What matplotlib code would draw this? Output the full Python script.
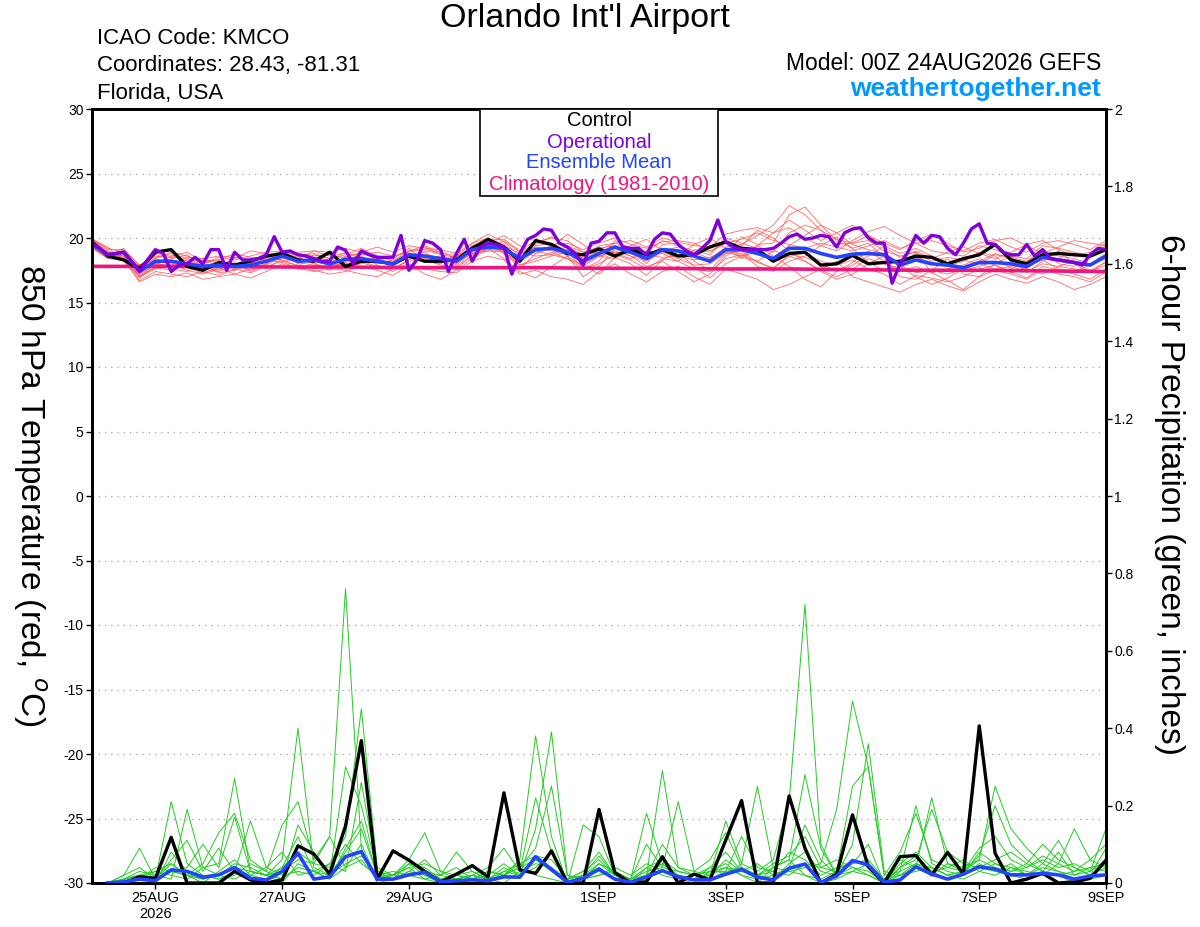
import matplotlib
matplotlib.use('Agg')
import matplotlib.pyplot as plt
import numpy as np

plt.rcParams['font.family'] = ['Liberation Sans', 'DejaVu Sans']
plt.rcParams['axes.unicode_minus'] = False
plt.rcParams['mathtext.fontset'] = 'custom'
plt.rcParams['mathtext.rm'] = 'Liberation Sans'

### DATA ###

# forecast hours from 00Z 24AUG2026
hours_6h = np.arange(65) * 6
hours_3h = np.arange(129) * 3
hours_clim = np.arange(17) * 24

xtick_hours = [24, 72, 120, 192, 240, 288, 336, 384]
xtick_labels = ['25AUG\n2026', '27AUG', '29AUG', '1SEP', '3SEP', '5SEP', '7SEP', '9SEP']
prcp_ticks = [0, 0.2, 0.4, 0.6, 0.8, 1, 1.2, 1.4, 1.6, 1.8, 2]
prcp_tick_labels = ['0', '0.2', '0.4', '0.6', '0.8', '1', '1.2', '1.4', '1.6', '1.8', '2']

# 850 hPa temperature (C)
temp_operational = [
    19.6, 19.2, 18.7, 18.8, 18.9, 18.2, 17.4, 18.3,
    19.1, 18.8, 17.4, 17.9, 18.0, 18.5, 18.0, 19.1,
    19.1, 17.5, 18.9, 18.3, 18.3, 18.4, 18.7, 20.1,
    18.9, 19.0, 18.7, 18.6, 18.4, 18.2, 18.2, 19.3,
    19.05, 18.0, 19.0, 18.7, 18.5, 18.5, 18.5, 20.2,
    17.5, 18.3, 19.8, 19.6, 19.1, 17.4, 18.8, 19.9,
    18.2, 19.3, 19.6, 19.5, 19.3, 17.2, 18.8, 19.9,
    20.2, 20.7, 20.6, 19.6, 19.3, 18.8, 17.9, 19.6,
    19.75, 20.4, 20.4, 19.3, 19.2, 19.2, 18.7, 19.9,
    20.4, 20.3, 19.5, 19.0, 18.7, 19.2, 19.8, 21.4,
    19.7, 19.3, 19.1, 19.1, 19.1, 19.1, 19.2, 19.6,
    20.1, 20.3, 19.9, 20.0, 20.2, 20.1, 19.3, 20.4,
    20.7, 20.8, 20.0, 19.6, 19.6, 16.5, 18.0, 18.9,
    20.2, 19.6, 20.2, 20.1, 19.2, 18.7, 19.6, 20.7,
    21.1, 19.6, 19.5, 18.9, 18.7, 18.7, 19.5, 18.6,
    19.1, 18.4, 18.3, 18.2, 18.1, 17.9, 18.7, 19.2,
    19.1]

temp_control = [
    19.7, 18.6, 18.3, 17.6, 18.9, 19.1, 17.8, 17.5,
    18.1, 17.9, 18.2, 18.6, 18.8, 18.3, 18.2, 18.9,
    17.8, 18.2, 18.2, 18.0, 18.6, 18.2, 18.2, 18.3,
    19.2, 19.9, 19.3, 18.2, 19.8, 19.5, 18.8, 18.7,
    19.15, 18.6, 19.1, 18.7, 19.1, 18.6, 18.7, 19.3,
    19.7, 19.2, 19.1, 18.2, 18.8, 18.9, 17.9, 18.0,
    18.65, 18.0, 18.1, 18.2, 18.6, 18.5, 18.0, 18.4,
    18.7, 19.5, 18.3, 18.0, 18.7, 18.8, 18.7, 18.6,
    19.1]

temp_mean = [
    19.5, 18.7, 18.9, 17.4, 18.2, 18.2, 18.0, 17.8,
    17.9, 17.8, 17.9, 18.2, 18.6, 18.2, 18.3, 18.0,
    18.35, 18.4, 18.2, 18.0, 18.7, 18.6, 18.4, 18.2,
    19.1, 19.3, 19.2, 18.4, 19.1, 19.2, 18.9, 18.2,
    18.8, 19.3, 18.9, 18.4, 19.1, 19.0, 18.6, 18.2,
    19.1, 19.1, 18.8, 18.4, 19.2, 19.2, 18.8, 18.5,
    18.75, 18.8, 18.7, 17.9, 18.3, 18.0, 17.9, 17.7,
    18.1, 18.1, 18.0, 17.8, 18.5, 18.3, 18.1, 17.9,
    18.6]

temp_climatology = [17.8, 17.8, 17.8, 17.75, 17.75, 17.7, 17.7, 17.7, 17.65,
                    17.65, 17.6, 17.6, 17.55, 17.5, 17.5, 17.45, 17.4]

temp_members = [
    [19.8, 19.0, 18.6, 17.0, 17.6, 18.0, 17.5, 17.2, 17.6, 18.0, 17.5, 18.0, 18.9, 18.5, 18.0, 17.6,
     18.2, 18.8, 18.5, 17.6, 18.3, 19.0, 18.8, 18.0, 19.4, 19.9, 19.5, 18.3, 19.4, 19.6, 19.0, 17.6,
     18.2, 19.8, 19.2, 18.0, 19.5, 19.6, 18.2, 17.5, 18.8, 20.1, 19.5, 19.6, 21.8, 22.4, 21.0, 19.8,
     19.2, 19.6, 18.5, 17.0, 16.8, 17.5, 18.4, 17.2, 17.0, 18.0, 18.6, 17.3, 18.2, 19.0, 18.0, 17.3,
     18.2],
    [19.3, 18.5, 19.2, 17.8, 18.6, 18.5, 18.4, 18.1, 18.3, 17.5, 18.4, 18.6, 18.3, 17.8, 18.7, 18.4,
     17.8, 18.0, 18.6, 18.4, 19.2, 18.2, 18.0, 18.7, 18.8, 19.0, 19.8, 18.9, 18.6, 18.7, 19.4, 18.9,
     19.3, 18.8, 18.4, 19.0, 18.8, 18.2, 19.1, 18.9, 19.6, 18.5, 18.2, 19.0, 18.7, 18.5, 18.0, 17.4,
     17.9, 18.6, 19.4, 18.8, 19.2, 18.6, 17.8, 18.2, 18.9, 18.6, 17.6, 18.2, 19.1, 18.0, 17.8, 18.5,
     19.2],
    [19.6, 18.9, 18.4, 16.7, 17.4, 17.2, 17.0, 17.4, 17.1, 17.6, 17.3, 17.8, 18.2, 17.9, 17.6, 17.8,
     18.6, 18.1, 17.7, 17.9, 18.5, 18.9, 18.2, 17.8, 18.6, 19.6, 18.8, 17.9, 18.4, 18.9, 18.4, 17.9,
     17.2, 18.5, 18.0, 17.1, 18.3, 18.9, 17.8, 16.9, 18.0, 18.6, 19.4, 18.6, 17.8, 16.8, 16.2, 17.4,
     18.1, 19.0, 18.2, 17.5, 18.9, 17.3, 16.7, 16.0, 17.0, 17.5, 17.2, 16.8, 17.6, 17.2, 17.0, 16.6,
     17.4],
    [19.9, 18.7, 19.0, 17.6, 18.5, 18.8, 18.2, 18.0, 18.5, 18.3, 18.6, 18.9, 19.0, 18.6, 18.8, 18.4,
     18.7, 19.2, 18.6, 18.2, 19.0, 19.1, 18.9, 18.6, 19.6, 20.0, 19.4, 18.8, 19.5, 20.1, 19.3, 18.7,
     19.2, 19.4, 19.0, 18.9, 19.8, 19.4, 19.0, 18.7, 20.0, 19.6, 19.2, 18.9, 20.4, 21.0, 20.6, 19.5,
     19.6, 20.2, 19.3, 18.5, 19.0, 18.4, 18.9, 19.3, 18.8, 18.4, 18.9, 19.5, 19.8, 19.1, 18.6, 18.9,
     19.6],
    [19.2, 18.4, 18.9, 17.2, 17.9, 18.4, 18.7, 17.6, 17.4, 17.9, 18.0, 17.6, 18.4, 18.4, 18.1, 17.5,
     18.3, 18.6, 17.9, 17.4, 18.4, 18.2, 18.6, 17.9, 18.9, 19.1, 19.0, 17.6, 18.8, 19.4, 18.6, 17.8,
     18.6, 19.0, 18.6, 18.2, 18.9, 18.4, 17.9, 18.0, 18.8, 19.0, 18.1, 17.7, 18.6, 18.2, 17.5, 17.0,
     17.6, 18.4, 18.0, 17.4, 17.8, 17.3, 17.6, 17.9, 18.4, 17.9, 17.3, 17.8, 18.3, 17.6, 17.4, 17.9,
     18.4],
    [19.7, 18.9, 18.8, 17.5, 18.0, 17.8, 18.3, 18.4, 18.0, 17.7, 17.8, 18.5, 18.8, 18.0, 18.5, 18.3,
     18.9, 18.4, 18.0, 18.3, 18.8, 18.4, 18.3, 18.6, 19.2, 19.5, 18.9, 18.7, 19.3, 19.0, 18.7, 18.5,
     19.4, 19.6, 19.2, 18.6, 19.0, 19.3, 18.9, 18.4, 19.3, 19.5, 20.2, 21.0, 22.5, 21.8, 20.6, 19.9,
     19.6, 19.8, 19.0, 18.6, 18.9, 18.2, 18.5, 18.3, 18.0, 18.7, 18.5, 18.2, 18.9, 18.6, 18.4, 18.0,
     18.8],
    [19.4, 18.6, 18.7, 16.9, 17.8, 18.1, 17.7, 17.3, 17.7, 17.2, 17.6, 18.0, 18.6, 18.1, 17.9, 17.7,
     17.9, 18.2, 17.8, 17.7, 18.2, 18.3, 17.9, 17.6, 18.7, 19.0, 18.9, 18.1, 19.0, 18.7, 18.4, 17.6,
     18.0, 18.7, 18.3, 17.6, 18.4, 18.2, 17.6, 17.4, 18.4, 18.7, 18.2, 17.6, 18.7, 18.8, 18.2, 17.9,
     18.3, 17.6, 17.2, 16.4, 17.1, 16.9, 16.6, 17.0, 17.6, 17.9, 17.4, 16.9, 17.8, 17.5, 17.2, 16.8,
     17.6],
    [20.0, 19.1, 19.1, 17.9, 18.7, 18.6, 18.5, 18.4, 18.6, 18.5, 18.2, 18.4, 19.0, 18.8, 18.6, 18.7,
     18.8, 18.7, 18.9, 18.6, 18.9, 19.3, 18.7, 18.5, 19.4, 19.8, 19.9, 19.0, 19.8, 19.5, 19.6, 19.1,
     19.6, 20.0, 19.5, 19.2, 19.7, 19.8, 19.6, 19.0, 19.6, 19.9, 20.4, 19.8, 19.5, 19.2, 19.6, 19.3,
     19.0, 19.4, 19.8, 19.2, 19.6, 19.0, 18.8, 18.6, 19.4, 19.1, 18.6, 18.4, 19.4, 19.2, 18.9, 18.6,
     19.4],
    [19.5, 18.8, 18.5, 17.1, 17.7, 17.5, 17.9, 17.8, 17.5, 18.1, 17.4, 17.9, 18.5, 18.2, 18.2, 17.9,
     18.0, 18.3, 18.4, 17.8, 18.6, 18.7, 18.5, 18.1, 18.8, 19.2, 19.1, 17.9, 18.2, 18.6, 18.9, 18.0,
     18.6, 18.9, 18.8, 18.7, 18.5, 18.6, 18.3, 18.5, 19.0, 18.8, 17.8, 17.4, 18.2, 18.6, 19.4, 20.1,
     19.2, 18.1, 17.5, 17.9, 17.3, 17.5, 17.2, 17.6, 18.0, 17.6, 17.8, 17.4, 18.0, 17.8, 17.6, 17.5,
     18.1],
    [19.6, 18.6, 19.0, 17.6, 18.3, 18.2, 17.9, 17.5, 17.8, 18.0, 18.1, 18.2, 18.8, 18.3, 18.4, 18.1,
     18.1, 18.5, 18.2, 18.1, 18.8, 18.5, 18.4, 18.2, 19.0, 19.4, 19.4, 18.4, 19.1, 19.3, 19.1, 18.4,
     19.0, 19.2, 19.0, 18.4, 19.2, 19.0, 18.7, 18.1, 18.9, 18.6, 18.9, 18.5, 19.4, 20.2, 21.0, 20.4,
     19.5, 19.1, 18.8, 18.1, 18.5, 18.1, 17.8, 17.5, 17.8, 18.2, 17.9, 17.6, 18.5, 18.4, 18.2, 18.0,
     18.7],
    [19.3, 18.4, 18.3, 16.6, 17.2, 17.0, 17.3, 16.8, 17.0, 17.2, 16.9, 17.4, 18.0, 17.6, 17.5, 17.2,
     17.4, 17.8, 17.5, 17.1, 17.9, 17.6, 17.4, 17.3, 18.2, 18.6, 18.3, 17.2, 17.5, 17.0, 16.8, 16.4,
     17.4, 18.0, 17.2, 16.6, 17.4, 17.8, 17.0, 16.4, 17.6, 17.2, 16.8, 16.0, 16.4, 17.0, 17.6, 18.2,
     17.0, 16.6, 16.2, 15.8, 16.4, 16.8, 16.3, 15.9, 16.6, 17.2, 16.8, 16.5, 17.0, 16.6, 16.0, 16.4,
     17.0],
    [19.8, 19.2, 18.9, 17.7, 18.4, 18.9, 18.6, 18.2, 18.3, 18.8, 18.5, 18.3, 18.7, 18.9, 19.0, 18.6,
     18.5, 18.9, 19.3, 18.9, 19.4, 19.2, 19.1, 18.8, 19.6, 20.3, 19.7, 18.6, 19.7, 20.0, 19.8, 18.9,
     19.1, 19.6, 19.8, 19.3, 20.0, 19.7, 19.4, 19.3, 20.3, 20.6, 20.8, 20.4, 20.8, 20.0, 19.4, 19.0,
     19.8, 20.5, 20.9, 20.2, 19.6, 19.8, 19.4, 19.0, 19.6, 19.9, 19.3, 18.9, 19.6, 19.8, 19.5, 19.1,
     19.8],
    [19.4, 18.8, 18.6, 17.3, 18.1, 17.6, 17.4, 17.9, 17.3, 17.5, 17.9, 18.3, 18.1, 17.7, 17.4, 17.6,
     17.5, 17.2, 17.0, 17.6, 18.0, 17.2, 16.8, 17.5, 18.4, 19.2, 18.4, 17.4, 16.9, 17.8, 18.6, 17.0,
     17.8, 19.2, 18.6, 17.8, 18.2, 17.4, 16.6, 17.2, 18.6, 19.4, 20.6, 20.0, 19.0, 18.2, 17.4, 16.8,
     17.2, 18.0, 18.6, 17.8, 17.0, 16.4, 16.9, 17.6, 18.2, 18.8, 18.4, 17.6, 17.2, 17.8, 18.2, 17.4,
     17.9],
    [19.9, 19.3, 18.2, 17.0, 18.0, 18.6, 18.9, 18.2, 17.9, 18.4, 19.0, 18.8, 18.2, 18.4, 19.0, 18.9,
     19.2, 18.9, 18.3, 18.5, 19.0, 19.4, 18.9, 18.4, 19.1, 19.6, 20.2, 19.4, 18.8, 19.2, 20.3, 19.5,
     18.6, 18.4, 19.4, 19.9, 19.0, 18.6, 19.5, 20.0, 19.2, 18.4, 19.4, 20.4, 21.4, 20.6, 19.8, 20.4,
     21.0, 20.2, 19.6, 19.1, 19.8, 20.3, 19.6, 18.9, 19.2, 19.8, 20.0, 19.4, 18.8, 19.3, 19.8, 19.6,
     19.4],
]

# 6-hour precipitation (inches), first value (hour 0) is not plotted
prcp_control = [
    0, 0, 0, 0.016, 0.012, 0.118, 0, 0,
    0, 0.03, 0.008, 0, 0.008, 0.096, 0.075, 0.023,
    0.147, 0.368, 0.01, 0.083, 0.059, 0.03, 0.003, 0.023,
    0.045, 0.016, 0.233, 0.034, 0.025, 0.083, 0, 0,
    0.19, 0.027, 0, 0.003, 0.068, 0, 0.023, 0.008,
    0.111, 0.213, 0, 0, 0.225, 0.09, 0, 0.023,
    0.176, 0.042, 0, 0.068, 0.071, 0.021, 0.079, 0.023,
    0.406, 0.077, 0, 0.01, 0.025, 0, 0.003, 0.012,
    0.059]

prcp_mean = [
    0, 0, 0.003, 0.01, 0.006, 0.034, 0.03, 0.015,
    0.021, 0.04, 0.012, 0.008, 0.03, 0.077, 0.01, 0.016,
    0.068, 0.081, 0.01, 0.01, 0.021, 0.028, 0.003, 0.006,
    0.008, 0.006, 0.016, 0.015, 0.068, 0.035, 0.002, 0.012,
    0.036, 0.01, 0.002, 0.016, 0.032, 0.016, 0.008, 0.008,
    0.023, 0.035, 0.015, 0.008, 0.038, 0.049, 0.002, 0.018,
    0.058, 0.047, 0.002, 0.008, 0.042, 0.023, 0.01, 0.023,
    0.042, 0.036, 0.021, 0.021, 0.025, 0.021, 0.01, 0.018,
    0.021]

prcp_members = [
    [0, 0, 0.01, 0.02, 0.01, 0.05, 0.02, 0, 0.03, 0.06, 0.02, 0.01, 0.04, 0.08, 0.05, 0.12,
     0.76, 0.09, 0, 0.01, 0.03, 0.02, 0, 0, 0.01, 0, 0.03, 0.05, 0.02, 0.01, 0, 0.02,
     0.04, 0.01, 0, 0.02, 0.05, 0.01, 0, 0.03, 0.05, 0.02, 0, 0.04, 0.06, 0.02, 0, 0.01,
     0.03, 0.02, 0, 0.04, 0.07, 0.03, 0.01, 0.02, 0.05, 0.03, 0.02, 0.01, 0.03, 0.02, 0, 0.01,
     0.02],
    [0, 0, 0, 0.01, 0.03, 0.02, 0.01, 0.04, 0.02, 0.01, 0.03, 0.02, 0, 0.05, 0.03, 0.01,
     0.04, 0.06, 0.01, 0.02, 0.04, 0.01, 0, 0.02, 0.03, 0.01, 0.02, 0.04, 0.06, 0.03, 0, 0.01,
     0.05, 0.02, 0, 0.01, 0.03, 0.02, 0.01, 0.04, 0.02, 0.05, 0.03, 0.06, 0.21, 0.72, 0.10, 0.02,
     0.04, 0.03, 0, 0.05, 0.08, 0.04, 0.02, 0.03, 0.06, 0.25, 0.14, 0.09, 0.05, 0.03, 0.02, 0.04,
     0.03],
    [0, 0, 0.02, 0.09, 0.01, 0.03, 0.02, 0.01, 0.02, 0.04, 0.03, 0.02, 0.06, 0.40, 0.04, 0.02,
     0.08, 0.14, 0.02, 0.01, 0.02, 0.03, 0.01, 0, 0.02, 0.01, 0, 0.03, 0.22, 0.08, 0.01, 0.03,
     0.06, 0.02, 0, 0.04, 0.02, 0.01, 0.02, 0.03, 0.04, 0.02, 0.01, 0.02, 0.03, 0.04, 0.05, 0.19,
     0.47, 0.30, 0.02, 0.03, 0.05, 0.04, 0.02, 0.01, 0.03, 0.05, 0.04, 0.02, 0.05, 0.11, 0.04, 0.02,
     0.05],
    [0, 0, 0, 0.02, 0.01, 0.21, 0.05, 0.02, 0.01, 0.03, 0.16, 0.04, 0.02, 0.03, 0.02, 0.05,
     0.03, 0.26, 0.03, 0.01, 0.05, 0.02, 0.01, 0.02, 0.01, 0.03, 0.02, 0.06, 0.38, 0.12, 0, 0.02,
     0.03, 0.01, 0.01, 0.18, 0.05, 0.02, 0.01, 0.02, 0.06, 0.03, 0.02, 0.01, 0.05, 0.08, 0.03, 0.02,
     0.10, 0.36, 0.03, 0.02, 0.04, 0.22, 0.05, 0.03, 0.04, 0.03, 0.05, 0.02, 0.04, 0.03, 0.01, 0.02,
     0.04],
    [0, 0, 0.01, 0.03, 0.02, 0.01, 0.19, 0.04, 0.05, 0.27, 0.03, 0.02, 0.01, 0.04, 0.03, 0.02,
     0.05, 0.07, 0.02, 0.03, 0.02, 0.01, 0.02, 0.08, 0.03, 0.01, 0.04, 0.02, 0.14, 0.39, 0.02, 0.01,
     0.02, 0.03, 0, 0.02, 0.29, 0.04, 0.02, 0.01, 0.03, 0.12, 0.04, 0.03, 0.02, 0.05, 0.04, 0.06,
     0.04, 0.02, 0, 0.03, 0.20, 0.05, 0.03, 0.02, 0.08, 0.05, 0.03, 0.04, 0.06, 0.04, 0.05, 0.03,
     0.14],
    [0, 0, 0, 0.01, 0.04, 0.03, 0.02, 0.05, 0.13, 0.18, 0.06, 0.03, 0.15, 0.21, 0.06, 0.12,
     0.04, 0.10, 0.01, 0.02, 0.06, 0.13, 0.03, 0.01, 0.02, 0.04, 0.09, 0.03, 0.05, 0.04, 0, 0.15,
     0.12, 0.02, 0.01, 0.03, 0.04, 0.21, 0.03, 0.02, 0.16, 0.05, 0.25, 0.04, 0.03, 0.02, 0.01, 0.03,
     0.06, 0.04, 0, 0.02, 0.05, 0.03, 0.04, 0.06, 0.03, 0.02, 0.04, 0.03, 0.02, 0.05, 0.14, 0.06,
     0.10],
    [0, 0, 0.01, 0.02, 0.03, 0.05, 0.02, 0.01, 0.02, 0.05, 0.04, 0.02, 0.03, 0.06, 0.05, 0.04,
     0.10, 0.05, 0.02, 0.02, 0.05, 0.04, 0.01, 0.01, 0.02, 0.01, 0.02, 0.05, 0.07, 0.06, 0.01, 0.03,
     0.08, 0.02, 0.01, 0.04, 0.06, 0.03, 0.02, 0.03, 0.03, 0.04, 0.02, 0.03, 0.08, 0.06, 0.02, 0.04,
     0.05, 0.06, 0.01, 0.06, 0.04, 0.02, 0.05, 0.04, 0.06, 0.04, 0.03, 0.05, 0.03, 0.02, 0.03, 0.04,
     0.05],
    [0, 0, 0, 0.01, 0, 0.08, 0.03, 0.02, 0.01, 0.02, 0.05, 0.03, 0.01, 0.15, 0.08, 0.02,
     0.30, 0.20, 0.03, 0.02, 0.02, 0.03, 0.02, 0.04, 0.01, 0.02, 0.05, 0.02, 0.04, 0.08, 0.01, 0.02,
     0.05, 0.03, 0.01, 0.02, 0.10, 0.04, 0.03, 0.06, 0.13, 0.04, 0.02, 0.05, 0.07, 0.12, 0.04, 0.03,
     0.25, 0.30, 0.02, 0.08, 0.18, 0.06, 0.04, 0.03, 0.09, 0.12, 0.06, 0.04, 0.07, 0.05, 0.03, 0.06,
     0.04],
    [0, 0, 0.02, 0.04, 0.01, 0.06, 0.11, 0.03, 0.09, 0.03, 0.02, 0.04, 0.08, 0.02, 0.03, 0.05,
     0.12, 0.45, 0.04, 0.02, 0.04, 0.05, 0.03, 0.02, 0.01, 0.03, 0.02, 0.04, 0.09, 0.25, 0.02, 0.01,
     0.02, 0.04, 0.02, 0.05, 0.03, 0.02, 0.01, 0.02, 0.04, 0.03, 0.02, 0.04, 0.06, 0.28, 0.09, 0.02,
     0.03, 0.05, 0.01, 0.02, 0.03, 0.04, 0.02, 0.03, 0.07, 0.20, 0.10, 0.06, 0.03, 0.08, 0.02, 0.03,
     0.06],
    [0, 0, 0.01, 0.02, 0.01, 0.03, 0.04, 0.10, 0.04, 0.17, 0.03, 0.02, 0.04, 0.12, 0.03, 0.01,
     0.09, 0.16, 0.02, 0.01, 0.03, 0.06, 0.02, 0.01, 0.02, 0.01, 0.03, 0.02, 0.06, 0.04, 0.01, 0.02,
     0.07, 0.02, 0.01, 0.10, 0.04, 0.03, 0.02, 0.04, 0.08, 0.03, 0.05, 0.02, 0.04, 0.15, 0.06, 0.02,
     0.05, 0.10, 0, 0.04, 0.06, 0.19, 0.08, 0.05, 0.04, 0.06, 0.08, 0.05, 0.10, 0.06, 0.04, 0.02,
     0.09],
]

### COLOURS ###

c_member_t = '#ff5050'
c_member_p = '#22cc22'
c_oper = '#8000dc'
c_mean = '#2244ff'
c_clim = '#f0147f'

### FIGURE ###

fig = plt.figure(figsize=(12, 9.27), dpi=100)
ax = fig.add_axes([92 / 1200, 44 / 927, 1014 / 1200, 774 / 927])
ax2 = ax.twinx()

# temperature
for m in temp_members:
    ax.plot(hours_6h, m, c=c_member_t, lw=0.6, alpha=0.85, zorder=1)
ax.plot(hours_clim, temp_climatology, c=c_clim, lw=2.6, zorder=2)
ax.plot(hours_6h, temp_control, c='k', lw=2.4, zorder=3)
ax.plot(hours_6h, temp_mean, c=c_mean, lw=2.6, zorder=4)
ax.plot(hours_3h, temp_operational, c=c_oper, lw=2.4, zorder=5)

# precipitation
for m in prcp_members:
    ax2.plot(hours_6h[1:], m[1:], c=c_member_p, lw=0.7, zorder=1)
ax2.plot(hours_6h[1:], prcp_control[1:], c='k', lw=2.4, zorder=3)
ax2.plot(hours_6h[1:], prcp_mean[1:], c=c_mean, lw=2.6, zorder=4)

for v in range(-25, 30, 5):
    ax.axhline(v, ls=(0, (1, 4)), c='#a0a0a0', lw=0.9, zorder=0)

ax.set_xlim(0, 384)
ax.set_ylim(-30, 30)
ax2.set_ylim(0, 2)
ax.set_yticks(range(-30, 31, 5))
ax2.set_yticks(prcp_ticks)
ax2.set_yticklabels(prcp_tick_labels)
ax.set_xticks(xtick_hours)
ax.set_xticklabels(xtick_labels, linespacing=1.15)

for a in (ax, ax2):
    for s in a.spines.values():
        s.set_linewidth(2)
    a.tick_params(direction='out', length=4, width=1, pad=2, labelsize=10)
ax.tick_params(axis='x', labelsize=10.5)

# axis labels
fig.text(30 / 1200, 1 - 495 / 927, '850 hPa Temperature (red, $^{o}$C)', rotation=270,
         ha='center', va='center', fontsize=24)
fig.text(1170 / 1200, 1 - 495 / 927, '6-hour Precipitation (green, inches)', rotation=270,
         ha='center', va='center', fontsize=24)

# header
fig.text(585 / 1200, 1 - 18 / 927, "Orlando Int'l Airport", ha='center', va='center', fontsize=24.5)
fig.text(97 / 1200, 1 - 39 / 927, 'ICAO Code: KMCO', ha='left', va='center', fontsize=16)
fig.text(97 / 1200, 1 - 66 / 927, 'Coordinates: 28.43, -81.31', ha='left', va='center', fontsize=16)
fig.text(97 / 1200, 1 - 93 / 927, 'Florida, USA', ha='left', va='center', fontsize=16)
fig.text(1101 / 1200, 1 - 63 / 927, 'Model: 00Z 24AUG2026 GEFS', ha='right', va='center', fontsize=16.5)
fig.text(1101 / 1200, 1 - 89 / 927, 'weathertogether.net', ha='right', va='center', fontsize=19,
         fontweight='bold', color='#0099ff')

# legend box
fig.add_artist(plt.Rectangle((480 / 1200, 1 - 196 / 927), 238 / 1200, 87 / 927,
                             transform=fig.transFigure, facecolor='white', edgecolor='k',
                             lw=1.2, zorder=10))
legend_items = [('Control', 'k', 121), ('Operational', c_oper, 142),
                ('Ensemble Mean', c_mean, 163), ('Climatology (1981-2010)', c_clim, 185)]
for txt, col, ypx in legend_items:
    fig.text(599 / 1200, 1 - ypx / 927, txt, ha='center', va='center', fontsize=14.5,
             color=col, zorder=11)

plt.savefig('out.png', dpi=100)
plt.close()
